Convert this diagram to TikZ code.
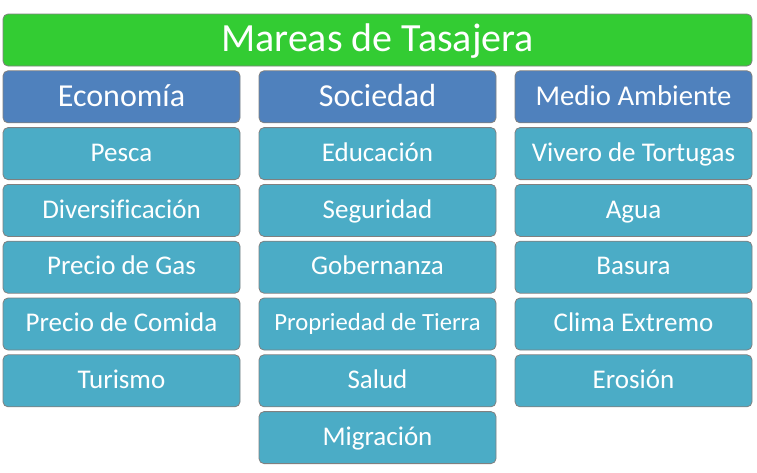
\documentclass[tikz,border=0pt]{standalone}
\usepackage{fontspec}
\setmainfont{Carlito}[Ligatures=NoCommon]
\usepackage{tikz}
\usetikzlibrary{positioning}
\definecolor{verde}{RGB}{51,204,51}
\definecolor{azul}{RGB}{79,129,189}
\definecolor{aqua}{RGB}{75,172,198}
\definecolor{borde}{RGB}{128,128,128}

\begin{document}
\begin{tikzpicture}[node distance=56.8pt and 256pt, on grid,
    caja/.style={draw=borde, line width=0.8pt, rounded corners=5pt, text=white,
        minimum width=237pt, minimum height=52pt, inner sep=0pt, text depth=2pt},
    titulo/.style={caja, fill=verde, minimum width=749pt, text height=25.8pt,
        font=\fontsize{40}{48}\selectfont},
    tema/.style={caja, fill=azul, text height=20.6pt, font=\fontsize{32}{38}\selectfont},
    factor/.style={caja, fill=aqua, text height=17.4pt, font=\fontsize{27}{32}\selectfont}]
    \useasboundingbox (0,0) rectangle (757pt,-472pt);
    \node[titulo] (t) at (377.5pt,-40pt) {Mareas de Tasajera};
    \node[tema] (eco) [below left=of t] {Economía};
    \node[tema] (soc) [below=of t] {Sociedad};
    \node[tema, text height=18.5pt, font=\fontsize{28.7}{34}\selectfont] (med) [below right=of t] {Medio Ambiente};

    \node[factor] (pesca) [below=of eco] {Pesca};
    \node[factor] (divers) [below=of pesca] {Diversificación};
    \node[factor] (gas) [below=of divers] {Precio de Gas};
    \node[factor] (comida) [below=of gas] {Precio de Comida};
    \node[factor] (turismo) [below=of comida] {Turismo};

    \node[factor] (edu) [below=of soc] {Educación};
    \node[factor] (seg) [below=of edu] {Seguridad};
    \node[factor] (gob) [below=of seg] {Gobernanza};
    \node[factor, text height=15.9pt, font=\fontsize{24.7}{30}\selectfont] (tierra) [below=of gob] {Propriedad de Tierra};
    \node[factor] (salud) [below=of tierra] {Salud};
    \node[factor] (migra) [below=of salud] {Migración};

    \node[factor] (vivero) [below=of med] {Vivero de Tortugas};
    \node[factor] (agua) [below=of vivero] {Agua};
    \node[factor] (basura) [below=of agua] {Basura};
    \node[factor] (clima) [below=of basura] {Clima Extremo};
    \node[factor] (erosion) [below=of clima] {Erosión};
\end{tikzpicture}
\end{document}
